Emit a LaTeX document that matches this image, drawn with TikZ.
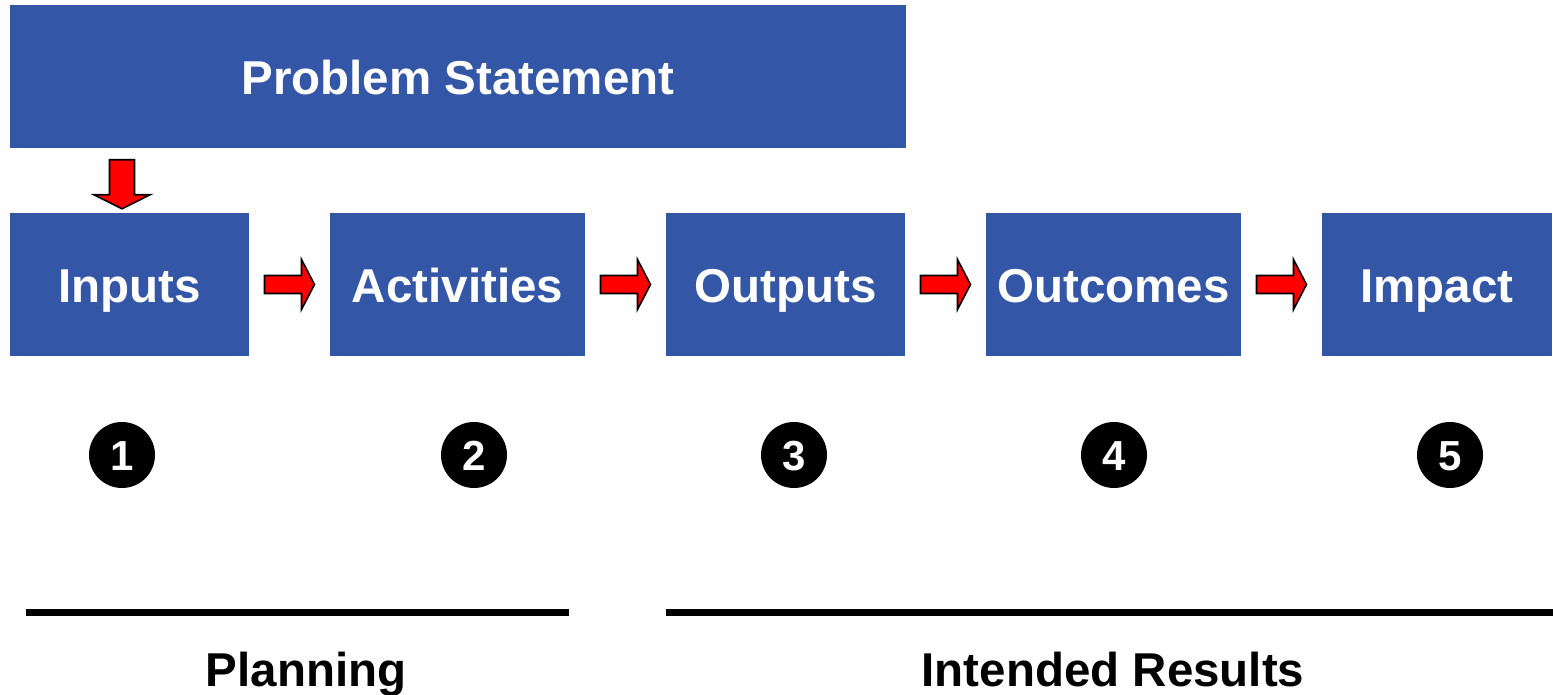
\documentclass[tikz,border=0pt]{standalone}
\usepackage{fontspec}
\setmainfont{Liberation Sans}
\usetikzlibrary{calc}
\definecolor{boxblue}{RGB}{52,86,166}
\definecolor{arrred}{RGB}{255,0,0}
\tikzset{
  box/.style={fill=boxblue, draw=none, minimum height=143pt, inner sep=0pt,
    text height=36pt, text depth=0pt,
    text=white, font=\fontsize{47.5}{57}\selectfont\bfseries},
  numdot/.style={circle, fill=black, minimum size=66pt, inner sep=0pt,
    text height=30pt, text depth=0pt,
    text=white, font=\fontsize{42}{50}\selectfont\bfseries},
  blockarrow/.style={fill=arrred, draw=black, line width=1.6pt, line join=miter},
  phase/.style={font=\fontsize{47.5}{57}\selectfont\bfseries, anchor=base, inner sep=0pt},
  bar/.style={line width=7pt}
}
\newcommand{\rarrow}[2]{%
  \coordinate (m) at ($(#1.east)!0.5!(#2.west)$);
  \draw[blockarrow] ($(m)+(-25,-9)$) -- ($(m)+(12,-9)$) -- ($(m)+(12,-25)$) --
    ($(m)+(25,0)$) -- ($(m)+(12,25)$) -- ($(m)+(12,9)$) -- ($(m)+(-25,9)$) -- cycle;}
\begin{document}
\begin{tikzpicture}[x=1pt, y=-1pt]
\useasboundingbox (0,0) rectangle (1553,695);
\node[box, minimum width=896pt] (problem) at (458,76.5) {Problem Statement};
\node[box, minimum width=239pt] (inputs) at (129.5,284.5) {Inputs};
\node[box, minimum width=255pt] (activities) at (457.5,284.5) {Activities};
\node[box, minimum width=239pt] (outputs) at (785.5,284.5) {Outputs};
\node[box, minimum width=255pt] (outcomes) at (1113.5,284.5) {Outcomes};
\node[box, minimum width=230pt] (impact) at (1437,284.5) {Impact};
% down arrow
\coordinate (d) at ($(inputs.north)+(-7.5,-4)$);
\draw[blockarrow] ($(d)+(-12.5,-49)$) -- ($(d)+(12.5,-49)$) -- ($(d)+(12.5,-14)$) --
  ($(d)+(28,-14)$) -- (d) -- ($(d)+(-28,-14)$) -- ($(d)+(-12.5,-14)$) -- cycle;
\rarrow{inputs}{activities}
\rarrow{activities}{outputs}
\rarrow{outputs}{outcomes}
\rarrow{outcomes}{impact}
\node[numdot] (n1) at (122,455) {1};
\node[numdot] (n2) at (474,455) {2};
\node[numdot] (n3) at (794,455) {3};
\node[numdot] (n4) at (1114,455) {4};
\node[numdot] (n5) at (1450,455) {5};
\coordinate (p1) at (26,612.5);
\coordinate (p2) at (569,612.5);
\coordinate (r1) at (666,612.5);
\coordinate (r2) at (1553,612.5);
\draw[bar] (p1) -- (p2);
\draw[bar] (r1) -- (r2);
\node[phase] (planning) at (306,686) {Planning};
\node[phase] (results) at (1113,686) {Intended Results};
\end{tikzpicture}
\end{document}
